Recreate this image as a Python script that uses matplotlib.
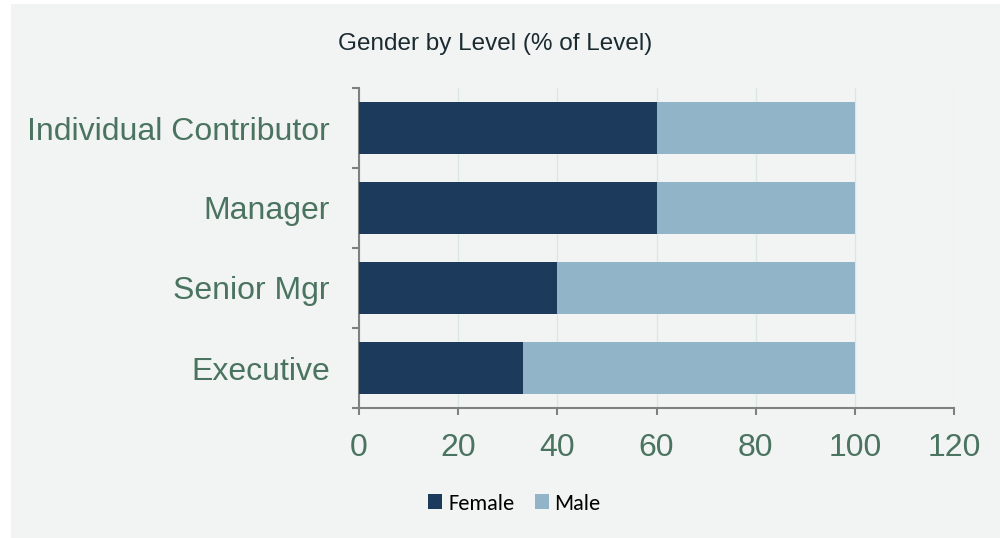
import matplotlib
matplotlib.use("Agg")
import matplotlib.pyplot as plt
from matplotlib.patches import Rectangle
from matplotlib.ticker import FixedLocator, NullFormatter
import numpy as np

categories = ["Individual Contributor", "Manager", "Senior Mgr", "Executive"]
female = [60, 60, 40, 33]
male = [40, 40, 60, 67]
x_ticks = [0, 20, 40, 60, 80, 100, 120]
title = "Gender by Level (% of Level)"

female_color = "#1c3a5c"
male_color = "#91b4c8"
label_color = "#4a7360"
panel_color = "#f2f4f3"

plt.rcParams['font.family'] = ['Liberation Sans', 'DejaVu Sans']

fig = plt.figure(figsize=(10, 5.38), dpi=100)
fig.patch.set_facecolor("white")
fig.add_artist(Rectangle((11/1000, -0.02), 1.0, 1 - 4/538 + 0.02, transform=fig.transFigure,
                         facecolor=panel_color, edgecolor="none", zorder=-10))

ax = fig.add_axes([0.359, 1 - 408/538, 0.954 - 0.359, (408 - 88)/538])
ax.set_facecolor(panel_color)
ax.patch.set_alpha(0)

y = np.arange(len(categories))
ax.barh(y, female, height=0.66, color=female_color, label="Female", zorder=3)
ax.barh(y, male, left=female, height=0.66, color=male_color, label="Male", zorder=3)

ax.set_ylim(len(categories) - 0.5, -0.5)
ax.set_xlim(0, 120)
ax.set_xticks(x_ticks)
ax.set_xticklabels([str(t) for t in x_ticks])
ax.set_yticks(y)
ax.set_yticklabels(categories)
ax.yaxis.set_minor_locator(FixedLocator(np.arange(-0.5, len(categories), 1.0)))
ax.yaxis.set_minor_formatter(NullFormatter())

ax.tick_params(axis='y', which='major', length=0, pad=21, labelsize=23, labelcolor=label_color)
ax.tick_params(axis='y', which='minor', length=5, width=1.5, color="#808080", direction='out')
ax.tick_params(axis='x', which='major', length=5, width=1.5, color="#808080", direction='out',
               pad=13, labelsize=23, labelcolor=label_color)

for s in ["top", "right"]:
    ax.spines[s].set_visible(False)
for s in ["left", "bottom"]:
    ax.spines[s].set_color("#808080")
    ax.spines[s].set_linewidth(1.5)

ax.grid(axis='x', color="#d9e8e3", linewidth=1, zorder=0)
ax.set_axisbelow(True)

fig.text(0.495, 1 - 50/538, title, ha='center', va='baseline', fontsize=17.5, color="#1a2a30")

fig.legend(loc='center', bbox_to_anchor=(0.5145, 1 - 503.5/538), ncol=2, frameon=False,
           prop={'family': ['Carlito', 'Lato', 'DejaVu Sans'], 'size': 16},
           handlelength=0.63, handleheight=0.63, handletextpad=0.27, columnspacing=0.9,
           borderpad=0, borderaxespad=0)

fig.savefig("out.png", dpi=100, facecolor=fig.get_facecolor())
